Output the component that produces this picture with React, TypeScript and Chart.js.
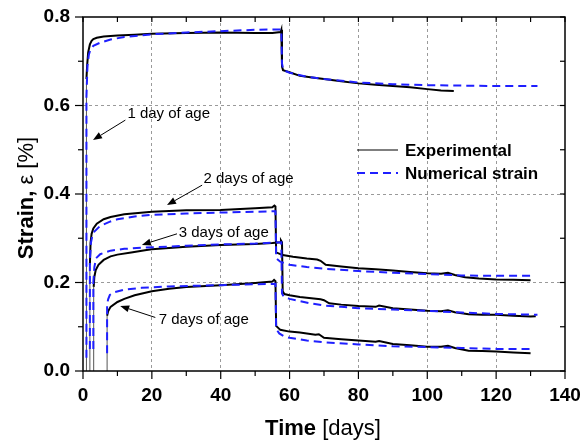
import React, { useEffect, useRef } from "react";
import { Chart, registerables } from "chart.js";

Chart.register(...registerables);

// Time axis ticks [days] and strain axis ticks [%]
const xTicks = [0, 20, 40, 60, 80, 100, 120, 140];
const yTicks = [0.0, 0.2, 0.4, 0.6, 0.8];

// Loading age 1 day
const expT1 = [1, 1, 1.2, 1.5, 2, 2.5, 3, 4, 6, 10, 15, 20, 30, 40, 50, 55, 57.4, 57.6, 57.8, 58.1, 60, 63, 66, 70, 75, 80, 85, 90, 95, 100, 104, 107.7];
const expY1 = [0, 0.66, 0.69, 0.72, 0.738, 0.746, 0.75, 0.753, 0.756, 0.758, 0.76, 0.762, 0.764, 0.765, 0.764, 0.764, 0.766, 0.771, 0.688, 0.68, 0.675, 0.667, 0.664, 0.66, 0.655, 0.65, 0.647, 0.644, 0.641, 0.637, 0.634, 0.633];
const numT1 = [1, 1, 1.3, 1.7, 2.2, 3, 5, 8, 12, 20, 30, 40, 50, 57.6, 57.8, 58.2, 60, 65, 70, 80, 90, 100, 110, 120, 132];
const numY1 = [0.03, 0.62, 0.69, 0.715, 0.727, 0.735, 0.742, 0.749, 0.755, 0.761, 0.765, 0.768, 0.771, 0.772, 0.695, 0.68, 0.674, 0.665, 0.66, 0.652, 0.648, 0.646, 0.645, 0.644, 0.644];

// Loading age 2 days
const expT2 = [2, 2, 2.2, 2.5, 3, 4, 6, 8, 12, 20, 30, 40, 50, 55, 55.6, 55.9, 56.1, 58, 61, 65, 68, 69, 70.5, 75, 80, 85, 90, 95, 100, 104, 106, 108, 111, 115, 120, 125, 130];
const expY2 = [0, 0.24, 0.29, 0.31, 0.322, 0.333, 0.343, 0.348, 0.354, 0.36, 0.363, 0.364, 0.368, 0.37, 0.374, 0.372, 0.268, 0.262, 0.258, 0.254, 0.252, 0.249, 0.24, 0.236, 0.232, 0.23, 0.227, 0.224, 0.221, 0.22, 0.222, 0.217, 0.212, 0.209, 0.207, 0.206, 0.205];
const numT2 = [2, 2, 2.3, 2.7, 3.3, 5, 8, 10, 15, 20, 30, 40, 50, 55.9, 56.1, 57.3, 60, 65, 70, 80, 90, 100, 110, 120, 130];
const numY2 = [0.05, 0.25, 0.29, 0.305, 0.315, 0.328, 0.338, 0.343, 0.349, 0.353, 0.356, 0.358, 0.36, 0.361, 0.255, 0.247, 0.24, 0.235, 0.231, 0.226, 0.222, 0.219, 0.216, 0.215, 0.215];

// Loading age 3 days
const expT3 = [3.1, 3.1, 3.3, 3.7, 4.5, 6, 8, 10, 14, 18, 20, 25, 30, 40, 50, 55, 57.3, 57.5, 57.8, 58, 58.5, 60, 63, 67, 69, 70, 71.5, 75, 80, 85, 86, 90, 95, 100, 104, 106, 108, 112, 116, 120, 125, 130, 131.5];
const expY3 = [0, 0.19, 0.213, 0.228, 0.24, 0.251, 0.259, 0.263, 0.268, 0.273, 0.275, 0.278, 0.281, 0.285, 0.287, 0.289, 0.291, 0.295, 0.291, 0.18, 0.174, 0.171, 0.167, 0.164, 0.162, 0.16, 0.153, 0.15, 0.147, 0.145, 0.148, 0.142, 0.139, 0.136, 0.135, 0.137, 0.133, 0.128, 0.127, 0.127, 0.125, 0.123, 0.124];
const numT3 = [3, 3, 3.3, 3.8, 5, 8, 12, 18, 25, 30, 40, 50, 57.6, 57.8, 58.3, 60, 63, 66, 70, 75, 80, 90, 100, 110, 120, 132];
const numY3 = [0.05, 0.2, 0.235, 0.255, 0.264, 0.272, 0.276, 0.279, 0.281, 0.283, 0.286, 0.288, 0.291, 0.175, 0.168, 0.163, 0.158, 0.153, 0.148, 0.145, 0.142, 0.139, 0.136, 0.132, 0.129, 0.127];

// Loading age 7 days
const expT7 = [7, 7, 7.3, 8, 10, 12, 15, 20, 25, 30, 40, 50, 55, 55.5, 55.9, 56.1, 57.3, 60, 63, 67.5, 68.5, 70, 75, 80, 85, 86, 90, 95, 100, 104, 106, 108, 112, 116, 120, 125, 130];
const expY7 = [0, 0.125, 0.135, 0.145, 0.156, 0.163, 0.171, 0.18, 0.186, 0.19, 0.194, 0.199, 0.202, 0.206, 0.203, 0.102, 0.093, 0.089, 0.087, 0.082, 0.083, 0.075, 0.072, 0.069, 0.066, 0.068, 0.061, 0.058, 0.055, 0.055, 0.057, 0.052, 0.046, 0.045, 0.044, 0.042, 0.04];
const numT7 = [7, 7, 7.3, 7.8, 9, 12, 17, 25, 35, 45, 55.9, 56.1, 57, 58.5, 60, 65, 70, 80, 90, 100, 110, 120, 130];
const numY7 = [0.04, 0.15, 0.162, 0.172, 0.178, 0.184, 0.188, 0.191, 0.193, 0.195, 0.197, 0.095, 0.085, 0.078, 0.075, 0.069, 0.065, 0.06, 0.056, 0.054, 0.052, 0.05, 0.05];

const expCurves = [[expT1, expY1], [expT2, expY2], [expT3, expY3], [expT7, expY7]];
const numCurves = [[numT1, numY1], [numT2, numY2], [numT3, numY3], [numT7, numY7]];

const legendLabels = ["Experimental", "Numerical strain"];

// Callouts: label, text anchor (days, strain) and arrow tail/tip (days, strain)
const callouts = [
  { text: "1 day of age", at: [12.9, 0.58], tail: [12.3, 0.567], tip: [2.9, 0.522] },
  { text: "2 days of age", at: [35.0, 0.434], tail: [34.6, 0.42], tip: [24.4, 0.375] },
  { text: "3 days of age", at: [27.8, 0.313], tail: [27.3, 0.31], tip: [17.1, 0.285] },
  { text: "7 days of age", at: [22.0, 0.115], tail: [21.0, 0.121], tip: [10.8, 0.147] },
];

const FONT = "'Liberation Sans', Arial, Helvetica, sans-serif";
const BLUE = "#1f1fff";

const toPoints = (t: number[], y: number[]) => t.map((v, i) => ({ x: v, y: y[i] }));

const decorPlugin = {
  id: "decor",
  afterDatasetsDraw(chart: any) {
    const { ctx, chartArea: a, scales } = chart;
    const xs = scales.x;
    const ys = scales.y;
    const seg = (x1: number, y1: number, x2: number, y2: number) => {
      ctx.beginPath();
      ctx.moveTo(x1, y1);
      ctx.lineTo(x2, y2);
      ctx.stroke();
    };
    ctx.save();
    ctx.setLineDash([]);
    ctx.strokeStyle = "#000";
    ctx.lineWidth = 1.5;
    ctx.strokeRect(a.left, a.top, a.right - a.left, a.bottom - a.top);

    // major and minor tick marks on all four sides
    ctx.lineWidth = 1.2;
    for (let v = 0; v <= 140; v += 10) {
      const px = xs.getPixelForValue(v);
      const major = v % 20 === 0;
      seg(px, a.bottom, px, a.bottom + (major ? 8 : 5));
      seg(px, a.top, px, a.top + 5);
    }
    for (let i = 0; i <= 8; i++) {
      const py = ys.getPixelForValue(i / 10);
      const major = i % 2 === 0;
      seg(a.left - (major ? 8 : 5), py, a.left, py);
      seg(a.right - 5, py, a.right, py);
    }

    // callouts with arrows
    ctx.fillStyle = "#000";
    ctx.font = `15px ${FONT}`;
    ctx.textBaseline = "middle";
    ctx.textAlign = "left";
    ctx.lineWidth = 1;
    for (const c of callouts) {
      const tx = xs.getPixelForValue(c.at[0]);
      const ty = ys.getPixelForValue(c.at[1]);
      ctx.fillText(c.text, tx, ty);
      const x1 = xs.getPixelForValue(c.tail[0]);
      const y1 = ys.getPixelForValue(c.tail[1]);
      const x2 = xs.getPixelForValue(c.tip[0]);
      const y2 = ys.getPixelForValue(c.tip[1]);
      const ang = Math.atan2(y2 - y1, x2 - x1);
      const hl = 9;
      const hw = 3.5;
      const bx = x2 - hl * Math.cos(ang);
      const by = y2 - hl * Math.sin(ang);
      seg(x1, y1, bx, by);
      ctx.beginPath();
      ctx.moveTo(x2, y2);
      ctx.lineTo(bx + hw * Math.sin(ang), by - hw * Math.cos(ang));
      ctx.lineTo(bx - hw * Math.sin(ang), by + hw * Math.cos(ang));
      ctx.closePath();
      ctx.fill();
    }

    // legend
    const lx = a.left + 274;
    const ly = a.top + 133;
    ctx.font = `bold 17px ${FONT}`;
    ctx.strokeStyle = "#000";
    ctx.lineWidth = 1.2;
    seg(lx, ly, lx + 41, ly);
    ctx.fillText(legendLabels[0], lx + 48, ly + 1);
    ctx.strokeStyle = BLUE;
    ctx.lineWidth = 2;
    ctx.setLineDash([8, 5]);
    seg(lx, ly + 23, lx + 41, ly + 23);
    ctx.setLineDash([]);
    ctx.fillText(legendLabels[1], lx + 48, ly + 24);

    // axis titles: bold quantity, regular unit
    ctx.textBaseline = "alphabetic";
    const drawTitle = (bold: string, rest: string, size: number) => {
      ctx.font = `bold ${size}px ${FONT}`;
      const w1 = ctx.measureText(bold).width;
      ctx.font = `${size}px ${FONT}`;
      const w2 = ctx.measureText(rest).width;
      const start = -(w1 + w2) / 2;
      ctx.font = `bold ${size}px ${FONT}`;
      ctx.fillText(bold, start, 0);
      ctx.font = `${size}px ${FONT}`;
      ctx.fillText(rest, start + w1, 0);
    };
    ctx.save();
    ctx.translate((a.left + a.right) / 2 - 1, 435);
    drawTitle("Time", " [days]", 22);
    ctx.restore();
    ctx.save();
    ctx.translate(33, 198);
    ctx.rotate(-Math.PI / 2);
    drawTitle("Strain,", " \u03b5 [%]", 22);
    ctx.restore();
    ctx.restore();
  },
};

export default function App() {
  const ref = useRef<HTMLCanvasElement | null>(null);
  useEffect(() => {
    document.body.style.margin = "0";
    const canvas = ref.current;
    if (!canvas) return;
    const datasets: any[] = [];
    expCurves.forEach(([t, y], i) => {
      datasets.push({
        label: `exp${i}`,
        data: toPoints(t, y),
        borderColor: "#000",
        borderWidth: 2,
        pointRadius: 0,
        tension: 0,
        order: 2,
        segment: {
          borderWidth: (c: any) => (c.p0.parsed.x === c.p1.parsed.x ? 1 : undefined),
          borderColor: (c: any) => (c.p0.parsed.x === c.p1.parsed.x ? "#555" : undefined),
        },
      });
    });
    numCurves.forEach(([t, y], i) => {
      datasets.push({
        label: `num${i}`,
        data: toPoints(t, y),
        borderColor: BLUE,
        borderWidth: 2,
        borderDash: [8, 5],
        pointRadius: 0,
        tension: 0,
        order: 1,
      });
    });
    const gridColor = (max: number) => (c: any) =>
      c.tick && (c.tick.value === 0 || Math.abs(c.tick.value - max) < 1e-9) ? "rgba(0,0,0,0)" : "#9a9a9a";
    const chart = new Chart(canvas, {
      type: "line",
      data: { datasets },
      plugins: [decorPlugin],
      options: {
        animation: false,
        responsive: false,
        layout: { padding: { left: 0, top: 17, right: 21, bottom: 0 } },
        plugins: { legend: { display: false }, tooltip: { enabled: false } },
        scales: {
          x: {
            type: "linear",
            min: xTicks[0],
            max: xTicks[xTicks.length - 1],
            afterBuildTicks: (s: any) => {
              s.ticks = xTicks.map((v) => ({ value: v }));
            },
            afterFit: (s: any) => {
              s.height = 77;
              s.paddingLeft = 0;
              s.paddingRight = 0;
            },
            grid: { color: gridColor(140), lineWidth: 1, drawTicks: false },
            border: { display: false, dash: [3, 3] },
            ticks: {
              color: "#000",
              padding: 13,
              maxRotation: 0,
              font: { family: FONT, size: 19, weight: "bold" },
              callback: (v: any) => String(v),
            },
          },
          y: {
            type: "linear",
            min: yTicks[0],
            max: yTicks[yTicks.length - 1],
            afterBuildTicks: (s: any) => {
              s.ticks = yTicks.map((v) => ({ value: v }));
            },
            afterFit: (s: any) => {
              s.width = 83;
              s.paddingTop = 0;
              s.paddingBottom = 0;
            },
            grid: { color: gridColor(0.8), lineWidth: 1, drawTicks: false },
            border: { display: false, dash: [3, 3] },
            ticks: {
              color: "#000",
              padding: 13,
              font: { family: FONT, size: 19, weight: "bold" },
              callback: (v: any) => Number(v).toFixed(1),
            },
          },
        },
      },
    });
    return () => chart.destroy();
  }, []);
  return (
    <div style={{ width: 586, height: 448, background: "#fff" }}>
      <canvas ref={ref} width={586} height={448} style={{ display: "block" }} />
    </div>
  );
}
